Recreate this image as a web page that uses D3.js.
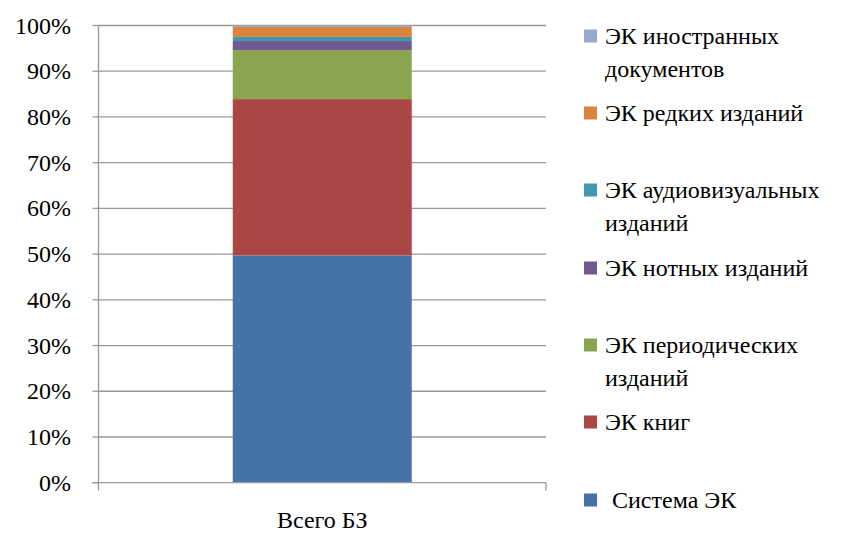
<!DOCTYPE html>
<html><head><meta charset="utf-8">
<script src="https://cdn.jsdelivr.net/npm/d3@7"></script>
<style>body{margin:0;background:#fff}svg{display:block}svg text{font-family:'Liberation Serif' !important}</style>
</head><body>
<svg id="c" width="856" height="538" style="font-family:'Liberation Serif'"></svg>
<script>
const categories = ["Всего БЗ"];
const seriesNames = ["Система ЭК","ЭК книг","ЭК периодических изданий","ЭК нотных изданий","ЭК аудиовизуальных изданий","ЭК редких изданий","ЭК иностранных документов"];
const seriesValues = [49.7, 34.2, 10.7, 2.0, 0.9, 2.2, 0.3];
const seriesColors = ["#4572A7","#AA4643","#89A54E","#71588F","#4198AF","#DB843D","#93A9CF"];
const legendLines = [["Система ЭК"],["ЭК книг"],["ЭК периодических","изданий"],["ЭК нотных изданий"],["ЭК аудиовизуальных","изданий"],["ЭК редких изданий"],["ЭК иностранных","документов"]];
const legendCenters = [500, 422, 345, 268, 190, 113, 36];
const yTicks = [0,10,20,30,40,50,60,70,80,90,100];

const FONT = "'Liberation Serif'";
const svg = d3.select("#c");
const x0 = 98.5, x1 = 546, yTop = 25.5, yBot = 482.7;
const y = d3.scaleLinear().domain([0,100]).range([yBot, yTop]);
const x = d3.scaleBand().domain(categories).range([x0, x1]).paddingInner(0).paddingOuter(0.3);

svg.append("g").selectAll("line").data(yTicks.filter(d=>d>0)).join("line")
  .attr("x1", x0).attr("x2", x1).attr("y1", d=>y(d)).attr("y2", d=>y(d))
  .attr("stroke", "#999").attr("stroke-width", 1.3);

let cum = 0;
const stacks = seriesValues.map((v,i)=>{const s={i, y0:cum, y1:cum+v}; cum+=v; return s;});
svg.append("g").selectAll("rect").data(stacks).join("rect")
  .attr("x", x(categories[0]) + (x.bandwidth()-179)/2).attr("width", 179)
  .attr("y", d=>y(d.y1)).attr("height", d=>y(d.y0)-y(d.y1))
  .attr("fill", d=>seriesColors[d.i]);

const ax = svg.append("g");
ax.append("line").attr("x1", x0).attr("x2", x0).attr("y1", yTop).attr("y2", yBot).attr("stroke","#999").attr("stroke-width",1.3);
ax.selectAll("line.t").data(yTicks).join("line").attr("class","t")
  .attr("x1", x0-6).attr("x2", x0).attr("y1", d=>y(d)).attr("y2", d=>y(d)).attr("stroke","#999").attr("stroke-width",1.3);
ax.selectAll("text").data(yTicks).join("text")
  .style("font-family", FONT)
  .attr("x", 71).attr("y", d=>y(d)+8).attr("text-anchor","end").attr("font-size", 24)
  .text(d=>d+"%");

svg.append("line").attr("x1", x0-6).attr("x2", x1).attr("y1", yBot).attr("y2", yBot).attr("stroke","#999").attr("stroke-width",1.3);
svg.selectAll("line.xt").data([x0, x1]).join("line").attr("class","xt")
  .attr("x1", d=>d).attr("x2", d=>d).attr("y1", yBot).attr("y2", yBot+8).attr("stroke","#999").attr("stroke-width",1.3);
svg.append("text").style("font-family", FONT).attr("x", x(categories[0]) + x.bandwidth()/2).attr("y", 528)
  .attr("text-anchor","middle").attr("font-size", 24).text(categories[0]);

const lg = svg.append("g");
seriesNames.forEach((n,i)=>{
  const cy = legendCenters[i];
  const tx = i===0 ? 612 : 605;
  lg.append("rect").attr("x", 584).attr("y", cy-6.5).attr("width", 13).attr("height", 13).attr("fill", seriesColors[i]);
  const t = lg.append("text").style("font-family", FONT).attr("font-size", 24).attr("x", tx).attr("y", cy+8);
  legendLines[i].forEach((l,j)=>{
    t.append("tspan").attr("x", tx).attr("dy", j===0?0:33).text(l);
  });
});
</script>
</body></html>
